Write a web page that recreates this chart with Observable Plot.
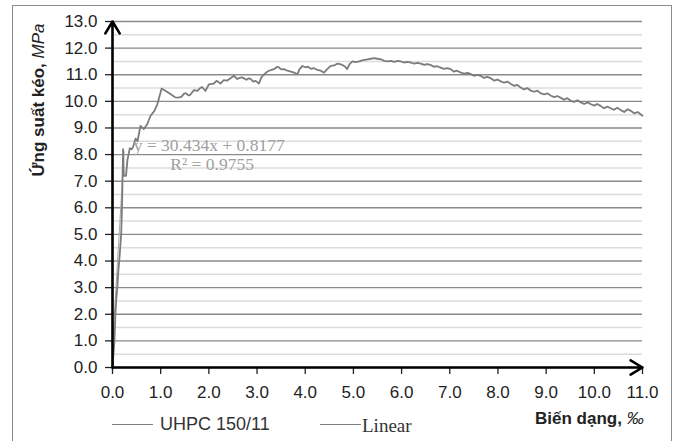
<!DOCTYPE html>
<html>
<head>
<meta charset="utf-8">
<script src="https://cdn.jsdelivr.net/npm/d3@7"></script>
<script src="https://cdn.jsdelivr.net/npm/@observablehq/plot@0.6"></script>
<style>
  html, body { margin: 0; padding: 0; background: #fff; }
  #wrap { position: relative; width: 678px; height: 441px; overflow: hidden; font-family: "Liberation Sans", Arial, sans-serif; }
  #frame { position: absolute; left: 12px; top: 5px; width: 660px; height: 460px; border: 1px solid #8c8c8c; box-sizing: border-box; }
  #chart { position: absolute; left: 0; top: 0; }
  .ytitle { position: absolute; left: 39px; top: 100px; transform: translate(-50%, -50%) rotate(-90deg); white-space: nowrap; font-weight: bold; font-size: 17px; color: #222; }
  .ytitle i { font-weight: normal; }
  .xtitle { position: absolute; left: 535px; top: 409px; white-space: nowrap; font-weight: bold; font-size: 17px; color: #222; }
  .xtitle i { font-weight: normal; }
  .leg { position: absolute; white-space: nowrap; color: #333; }
  .legline { position: absolute; height: 0; border-top: 1px solid #808080; }
</style>
</head>
<body>
<div id="wrap">
  <div id="chart"></div>
  <div id="frame"></div>
  <div class="ytitle">Ứng suất kéo, <i>MPa</i></div>
  <div class="xtitle">Biến dạng, <i>‰</i></div>
  <div class="legline" style="left:112px; top:424px; width:41px;"></div>
  <div class="leg" style="left:160px; top:414px; font-size:18px;">UHPC 150/11</div>
  <div class="legline" style="left:320px; top:424px; width:41px;"></div>
  <div class="leg" style="left:362px; top:415px; font-size:19px; font-family:'Liberation Serif', 'Times New Roman', serif;">Linear</div>
</div>
<script>
// Strain (‰) and tensile stress (MPa)
const strain = [0, 0.02, 0.04, 0.06, 0.08, 0.10, 0.12, 0.14, 0.16, 0.18, 0.19, 0.20, 0.205, 0.21, 0.22, 0.235, 0.28, 0.31, 0.36, 0.40, 0.43, 0.48, 0.52, 0.58, 0.65, 0.72, 0.79, 0.87, 0.93, 1.02,
  1.12, 1.18, 1.24, 1.30, 1.36, 1.43, 1.48, 1.52, 1.58, 1.61, 1.69, 1.76, 1.82, 1.86, 1.93, 2.00, 2.10, 2.16, 2.24, 2.31, 2.38, 2.45, 2.52, 2.59, 2.64, 2.69, 2.78, 2.82, 2.87, 2.92, 2.97, 3.04,
  3.09, 3.14, 3.20, 3.25, 3.30, 3.35, 3.42, 3.45, 3.50, 3.56, 3.63, 3.70, 3.77, 3.84, 3.88, 3.94, 4.00, 4.06, 4.12, 4.18, 4.25, 4.32, 4.39, 4.45, 4.53, 4.60, 4.67, 4.72, 4.77, 4.83, 4.87, 4.92,
  4.98, 5.05, 5.12, 5.20, 5.29, 5.36, 5.43, 5.50, 5.57, 5.64, 5.71, 5.78, 5.85, 5.92, 5.98, 6.05, 6.12, 6.19, 6.26, 6.33, 6.40, 6.47, 6.53, 6.60, 6.67, 6.74, 6.81, 6.88, 6.95, 7.02, 7.08, 7.15,
  7.23, 7.30, 7.37, 7.44, 7.50, 7.57, 7.64, 7.71, 7.78, 7.85, 7.92, 7.99, 8.06, 8.13, 8.20, 8.27, 8.34, 8.40, 8.47, 8.54, 8.61, 8.68, 8.75, 8.82, 8.89, 8.96, 9.03, 9.10, 9.17, 9.23, 9.30, 9.37,
  9.44, 9.51, 9.58, 9.65, 9.72, 9.79, 9.86, 9.93, 10.00, 10.06, 10.13, 10.20, 10.27, 10.34, 10.41, 10.48, 10.55, 10.62, 10.69, 10.76, 10.83, 10.90, 11.00];
const stress = [0, 0.5, 1.0, 2.0, 2.6, 3.0, 3.6, 4.0, 4.5, 5.0, 5.6, 6.2, 6.8, 7.3, 8.2, 7.2, 7.2, 7.8, 8.24, 8.2, 8.3, 8.6, 8.5, 9.08, 8.96, 9.14, 9.46, 9.64, 9.89, 10.48,
  10.37, 10.3, 10.23, 10.15, 10.14, 10.17, 10.28, 10.31, 10.22, 10.24, 10.42, 10.39, 10.5, 10.54, 10.39, 10.64, 10.67, 10.77, 10.67, 10.8, 10.78, 10.87, 10.96, 10.84, 10.88, 10.9, 10.81, 10.86, 10.84, 10.74, 10.77, 10.67,
  10.9, 11.0, 11.1, 11.15, 11.18, 11.21, 11.3, 11.28, 11.2, 11.21, 11.15, 11.12, 11.08, 11.02, 11.2, 11.33, 11.28, 11.3, 11.22, 11.25, 11.18, 11.15, 11.08, 11.2, 11.33, 11.35, 11.42, 11.4, 11.37, 11.3, 11.21, 11.4,
  11.5, 11.47, 11.5, 11.55, 11.58, 11.6, 11.62, 11.6, 11.58, 11.52, 11.5, 11.52, 11.48, 11.52, 11.5, 11.46, 11.48, 11.46, 11.42, 11.45, 11.42, 11.37, 11.4, 11.37, 11.3, 11.32, 11.27, 11.22, 11.25, 11.21, 11.12, 11.15,
  11.08, 11.04, 11.07, 11.02, 10.96, 10.99, 10.96, 10.88, 10.92, 10.87, 10.78, 10.82, 10.75, 10.7, 10.74, 10.65, 10.58, 10.62, 10.52, 10.45, 10.5, 10.4, 10.36, 10.4, 10.3, 10.26, 10.3, 10.21, 10.16, 10.2, 10.14, 10.06,
  10.12, 10.02, 9.98, 10.04, 9.96, 9.9, 9.96, 9.89, 9.84, 9.9, 9.83, 9.74, 9.8, 9.74, 9.68, 9.76, 9.67, 9.6, 9.7, 9.64, 9.55, 9.6, 9.46];

// Linear trendline (y = 30.434x + 0.8177) end points
const trendStrain = [0, 0.24];
const trendStress = [0.8177, 8.12];

// Trendline label
const eqText = ["y = 30.434x + 0.8177", "R² = 0.9755"];
const eqStrain = [0.44, 1.20];
const eqStress = [8.33, 7.64];

// Axis ticks
const xTicks = [0, 1, 2, 3, 4, 5, 6, 7, 8, 9, 10, 11];
const yTicks = [0, 1, 2, 3, 4, 5, 6, 7, 8, 9, 10, 11, 12, 13];
const yMinor = [0.5, 1.5, 2.5, 3.5, 4.5, 5.5, 6.5, 7.5, 8.5, 9.5, 10.5, 11.5, 12.5];

const curve = strain.map((x, i) => ({x, y: stress[i]}));
const trend = trendStrain.map((x, i) => ({x, y: trendStress[i]}));
const eq = eqText.map((t, i) => ({t, x: eqStrain[i], y: eqStress[i]}));
const axesArrows = [
  {x1: 0, y1: 0, x2: 0, y2: 13},
  {x1: 0, y1: 0, x2: 11, y2: 0}
];

const chart = Plot.plot({
  width: 678,
  height: 441,
  marginLeft: 112,
  marginRight: 36,
  marginTop: 21,
  marginBottom: 74,
  x: {domain: [0, 11]},
  y: {domain: [0, 13]},
  style: {fontFamily: "'Liberation Sans', Arial, sans-serif", fontSize: "17px", color: "#222", background: "transparent", overflow: "visible"},
  marks: [
    Plot.ruleY(yMinor, {x1: 0, x2: 11, stroke: "#dcdcdc", strokeWidth: 1.5}),
    Plot.ruleY(yTicks, {x1: 0, x2: 11, stroke: "#8a8a8a", strokeWidth: 1.4}),
    Plot.axisY({ticks: yTicks, tickFormat: d => d.toFixed(1), tickSize: 7, tickPadding: 8, label: null, stroke: "#222", strokeWidth: 1.3, fontSize: 17}),
    Plot.axisX({ticks: xTicks, tickFormat: d => d.toFixed(1), tickSize: 7, tickPadding: 11, label: null, stroke: "#222", strokeWidth: 1.3, fontSize: 17}),
    Plot.line(trend, {x: "x", y: "y", stroke: "#a8a8a8", strokeWidth: 1}),
    Plot.line(curve, {x: "x", y: "y", stroke: "#7c7c7c", strokeWidth: 1.8, strokeLinejoin: "round"}),
    Plot.arrow(axesArrows, {x1: "x1", y1: "y1", x2: "x2", y2: "y2", stroke: "#000", strokeWidth: 2.6, headLength: 8, headAngle: 62}),
    Plot.text(eq, {x: "x", y: "y", text: "t", textAnchor: "start", fontFamily: "'Liberation Serif', 'Times New Roman', serif", fontSize: 17.5, fill: "#a0a0a0"})
  ]
});
document.getElementById("chart").appendChild(chart);
</script>
</body>
</html>
